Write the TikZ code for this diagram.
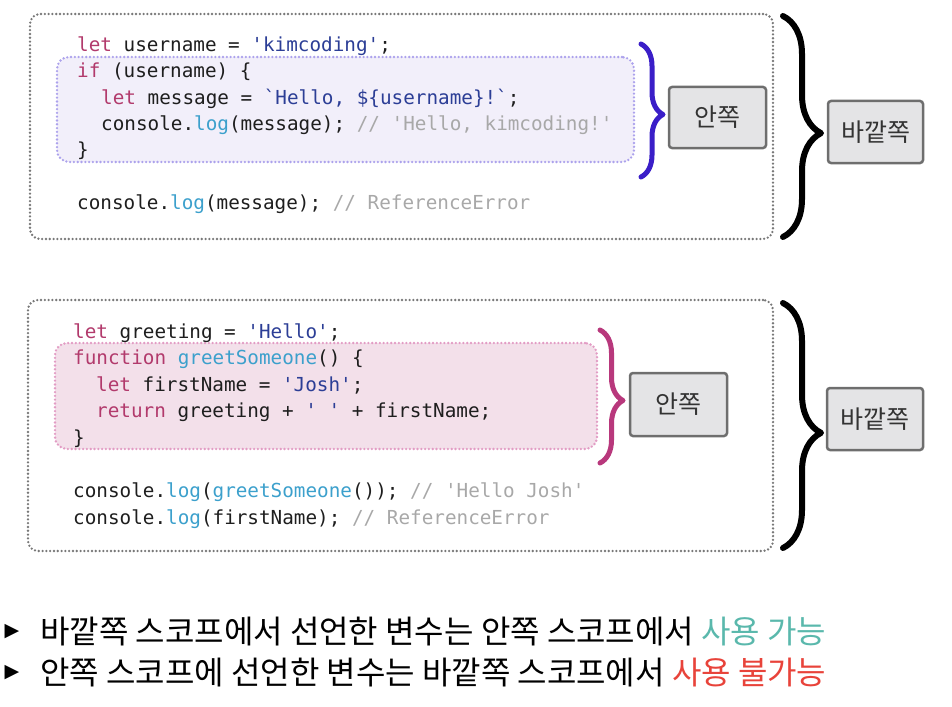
\documentclass[tikz,border=0pt]{standalone}
\usepackage{fontspec}
\setmonofont{DejaVu Sans Mono}
\newfontfamily\krfont{Noto Sans CJK KR}
\newfontfamily\symfont{DejaVu Sans}
\usetikzlibrary{decorations.pathreplacing,positioning}
\definecolor{codec}{RGB}{30,30,30}
\definecolor{kwc}{RGB}{178,58,108}
\definecolor{strc}{RGB}{44,62,150}
\definecolor{fnc}{RGB}{60,160,204}
\definecolor{cmtc}{RGB}{168,168,168}
\definecolor{frame}{RGB}{120,120,120}
\definecolor{lavfill}{RGB}{242,239,250}
\definecolor{lavline}{RGB}{172,162,236}
\definecolor{pinkfill}{RGB}{243,224,234}
\definecolor{pinkline}{RGB}{226,156,196}
\definecolor{bracea}{RGB}{58,30,200}
\definecolor{braceb}{RGB}{184,56,124}
\definecolor{tagfill}{RGB}{228,228,230}
\definecolor{tagline}{RGB}{110,110,110}
\definecolor{okc}{RGB}{90,184,172}
\definecolor{noc}{RGB}{232,67,58}
\newcommand\kw[1]{\textcolor{kwc}{#1}}
\newcommand\str[1]{\textcolor{strc}{#1}}
\newcommand\fn[1]{\textcolor{fnc}{#1}}
\newcommand\cmt[1]{\textcolor{cmtc}{#1}}
\tikzset{
  codeln/.style={anchor=mid west,inner sep=0pt,text=codec,font=\ttfamily\fontsize{19.3}{19.3}\selectfont},
  outerbox/.style={draw=frame,line width=2.6pt,dash pattern=on 0pt off 3.8pt,line cap=round,rounded corners=10pt,inner sep=0pt},
  innerbox/.style={line width=2.6pt,dash pattern=on 0pt off 3.8pt,line cap=round,rounded corners=12pt,inner sep=0pt},
  tagbox/.style={draw=tagline,fill=tagfill,line width=2.5pt,rounded corners=3pt,font=\krfont\fontsize{25}{25}\selectfont,text=black!80,inner sep=0pt},
  curly/.style={decorate,line width=5pt,line cap=round,line join=round},
  note/.style={anchor=west,inner sep=0pt,font=\krfont\fontsize{32}{32}\selectfont},
  bul/.style={inner sep=0pt,font=\symfont\fontsize{19}{19}\selectfont}
}
\begin{document}
\begin{tikzpicture}[x=1pt,y=-1pt]
\useasboundingbox (0,0) rectangle (952,706);
% first example
\node[outerbox,minimum width=743pt,minimum height=225pt] (outA) at (401.5,126.5) {};
\node[innerbox,draw=lavline,fill=lavfill,minimum width=577pt,minimum height=105pt] (inA) at (345.5,109.5) {};
\node[codeln] (a1) at (77,49) {\kw{let} username = \str{'kimcoding'};};
\node[codeln] (a2) at (77,75) {\kw{if} (username) \{};
\node[codeln] (a3) at (101,102) {\kw{let} message = \str{`Hello, \$\{username\}!`};};
\node[codeln] (a4) at (101,128) {console.\fn{log}(message); \cmt{// 'Hello, kimcoding!'}};
\node[codeln] (a5) at (77,154) {\}};
\node[codeln] (a6) at (77,207) {console.\fn{log}(message); \cmt{// ReferenceError}};
\coordinate (bA1) at (641,44);
\coordinate (bA2) at (641,177);
\coordinate (cA1) at (783,16);
\coordinate (cA2) at (783,237);
\draw[curly,draw=bracea,decoration={brace,amplitude=22pt,aspect=0.53}] (bA1) -- (bA2);
\draw[curly,draw=black,line width=6pt,decoration={brace,amplitude=38pt,aspect=0.53}] (cA1) -- (cA2);
\node[tagbox,minimum width=97pt,minimum height=61pt] (tagInA) at (717.5,117.5) {안쪽};
\node[tagbox,minimum width=95pt,minimum height=62pt] (tagOutA) at (875.5,132) {바깥쪽};
% second example
\node[outerbox,minimum width=745pt,minimum height=251pt] (outB) at (400.5,425.5) {};
\node[innerbox,draw=pinkline,fill=pinkfill,minimum width=542pt,minimum height=106pt] (inB) at (326,396) {};
\node[codeln] (b1) at (73,336) {\kw{let} greeting = \str{'Hello'};};
\node[codeln] (b2) at (73,362) {\kw{function} \fn{greetSomeone}() \{};
\node[codeln] (b3) at (96,389) {\kw{let} firstName = \str{'Josh'};};
\node[codeln] (b4) at (96,415) {\kw{return} greeting + \str{' '} + firstName;};
\node[codeln] (b5) at (73,442) {\}};
\node[codeln] (b6) at (73,495) {console.\fn{log}(\fn{greetSomeone}()); \cmt{// 'Hello Josh'}};
\node[codeln] (b7) at (73,522) {console.\fn{log}(firstName); \cmt{// ReferenceError}};
\coordinate (bB1) at (600,330);
\coordinate (bB2) at (600,463);
\coordinate (cB1) at (783,303);
\coordinate (cB2) at (783,548);
\draw[curly,draw=braceb,decoration={brace,amplitude=23pt,aspect=0.53}] (bB1) -- (bB2);
\draw[curly,draw=black,line width=6pt,decoration={brace,amplitude=38pt,aspect=0.53}] (cB1) -- (cB2);
\node[tagbox,minimum width=97pt,minimum height=63pt] (tagInB) at (678.5,404.5) {안쪽};
\node[tagbox,minimum width=96pt,minimum height=62pt] (tagOutB) at (875,419) {바깥쪽};
% summary
\node[bul] (dotA) at (12,632) {▶};
\node[note] (noteA) at (40,632) {바깥쪽 스코프에서 선언한 변수는 안쪽 스코프에서 \textcolor{okc}{사용 가능}};
\node[bul] (dotB) at (12,673) {▶};
\node[note] (noteB) at (40,673) {안쪽 스코프에 선언한 변수는 바깥쪽 스코프에서 \textcolor{noc}{사용 불가능}};
\end{tikzpicture}
\end{document}
